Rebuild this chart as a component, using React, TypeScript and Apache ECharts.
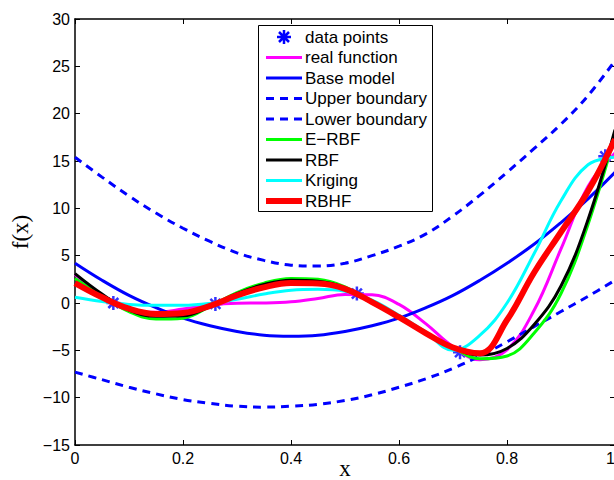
import React, { useEffect, useRef } from "react";
import * as echarts from "echarts";

// ---- data ----
const X = [0, 0.05, 0.1, 0.15, 0.2, 0.25, 0.3, 0.35, 0.4, 0.45, 0.5, 0.55, 0.6, 0.65, 0.7, 0.75, 0.8, 0.85, 0.9, 0.95, 1];

const pointsX = [0.071, 0.26, 0.522, 0.713, 0.982];
const pointsY = [0, -0.1, 1.0, -5.2, 15.5];

const realFunction = [3.03, 0.74, -0.66, -0.98, -0.64, -0.21, -0.02, 0.0, 0.12, 0.48, 0.91, 0.87, -0.15, -2.21, -4.61, -5.99, -4.95, -0.8, 5.71, 12.31, 15.83];
const baseModel = [4.2, 2.4, 0.8, -0.5, -1.6, -2.4, -3.0, -3.4, -3.5, -3.4, -3.0, -2.4, -1.6, -0.5, 0.8, 2.4, 4.2, 6.2, 8.5, 11.0, 13.8];
const upperBoundary = [15.4, 13.3, 11.3, 9.5, 7.9, 6.5, 5.3, 4.5, 4.0, 3.9, 4.2, 5.0, 6.0, 7.3, 9.2, 11.4, 13.8, 16.3, 18.9, 21.9, 25.6];
const lowerBoundary = [-7.3, -8.1, -8.9, -9.6, -10.2, -10.6, -10.9, -11.0, -10.9, -10.7, -10.3, -9.7, -8.9, -8.0, -6.9, -5.6, -4.1, -2.5, -0.9, 0.7, 2.4];
const eRbf = [2.6, 0.75, -0.9, -1.7, -1.6, -0.35, 1.1, 2.1, 2.6, 2.5, 1.7, 0.0, -1.5, -3.2, -4.7, -5.9, -5.6, -3.2, 1.0, 8.3, 17.8];
const rbf = [3.1, 0.95, -0.75, -1.4, -1.35, -0.35, 1.0, 1.95, 2.4, 2.3, 1.6, 0.0, -1.5, -3.2, -4.7, -5.5, -4.8, -2.3, 1.8, 8.8, 18.3];
const kriging = [0.6, 0.15, -0.15, -0.25, -0.25, -0.05, 0.4, 0.95, 1.35, 1.45, 1.25, 0.3, -1.3, -3.1, -5.0, -3.4, 0.0, 5.2, 10.8, 14.6, 15.4];
const rbhf = [2.1, 0.6, -0.6, -1.15, -1.05, -0.3, 0.8, 1.65, 2.1, 2.05, 1.5, 0.1, -1.5, -3.2, -4.7, -5.3, -1.8, 3.2, 7.5, 11.8, 17.3];

const legendNames = ["data points", "real function", "Base model", "Upper boundary", "Lower boundary", "E\u2212RBF", "RBF", "Kriging", "RBHF"];

const X_MIN = 0, X_MAX = 1, X_STEP = 0.2;
const Y_MIN = -15, Y_MAX = 30, Y_STEP = 5;

// ---- drawing ----
const STAR_D = "M-7 0L7 0M0 -7L0 7M-5 -5L5 5M-5 5L5 -5";
echarts.graphic.registerShape("asterisk", echarts.graphic.extendPath(STAR_D, {}));

const BLUE = "#0000FF";
const styles = [
  { kind: "star", color: BLUE },
  { kind: "line", color: "#FF00FF", width: 3 },
  { kind: "line", color: BLUE, width: 3 },
  { kind: "dash", color: BLUE, width: 3 },
  { kind: "dash", color: BLUE, width: 3 },
  { kind: "line", color: "#00FF00", width: 3 },
  { kind: "line", color: "#000000", width: 3 },
  { kind: "line", color: "#00FFFF", width: 3 },
  { kind: "line", color: "#FF0000", width: 6 },
];
const seriesValues = [null, realFunction, baseModel, upperBoundary, lowerBoundary, eRbf, rbf, kriging, rbhf];

const minus = (v: number) => String(v).replace("-", "\u2212");

export default function App() {
  const ref = useRef<HTMLDivElement>(null);
  useEffect(() => {
    if (!ref.current) return;
    const chart = echarts.init(ref.current, null, { renderer: "svg" });

    const series: any[] = [];
    series.push({
      type: "scatter",
      name: legendNames[0],
      data: pointsX.map((x, i) => [x, pointsY[i]]),
      symbol: "path://" + STAR_D,
      symbolSize: 14,
      itemStyle: { color: BLUE, borderColor: BLUE, borderWidth: 2.5 },
      z: 2,
    });
    for (let k = 1; k < legendNames.length; k++) {
      const st: any = styles[k];
      const ys = seriesValues[k] as number[];
      series.push({
        type: "line",
        name: legendNames[k],
        data: X.map((x, i) => [x, ys[i]]),
        showSymbol: false,
        symbol: "none",
        smooth: 0.4,
        lineStyle: { color: st.color, width: st.width, type: st.kind === "dash" ? [8, 6] : "solid" },
        itemStyle: { color: st.color },
        z: 3 + k,
      });
    }

    const lx = 258.5, ly = 25.5, lw = 174, lh = 186;
    const elements: any[] = [
      { type: "rect", shape: { x: lx, y: ly, width: lw, height: lh }, style: { fill: "#fff", stroke: "#000", lineWidth: 1 }, z: 100 },
    ];
    legendNames.forEach((name, i) => {
      const cy = 37 + i * 20.5;
      const st: any = styles[i];
      if (st.kind === "star") {
        elements.push({ type: "asterisk", x: 284, y: cy, style: { stroke: st.color, lineWidth: 2.5, fill: null }, z: 101 });
      } else {
        elements.push({
          type: "line",
          shape: { x1: 266, y1: cy, x2: 302, y2: cy },
          style: { stroke: st.color, lineWidth: st.width, lineDash: st.kind === "dash" ? [8, 6] : null },
          z: 101,
        });
      }
      elements.push({
        type: "text",
        x: 305,
        y: cy,
        style: { text: name, fill: "#000", fontSize: 17, fontFamily: "Liberation Sans", verticalAlign: "middle", align: "left" },
        z: 101,
      });
    });

    const axisLine = { show: true, onZero: false, lineStyle: { color: "#000", width: 1.5 } };
    const axisTick = { show: true, inside: true, length: 5, lineStyle: { color: "#000", width: 1 } };
    const label = { color: "#000", fontSize: 16, fontFamily: "Liberation Sans" };

    chart.setOption({
      animation: false,
      backgroundColor: "#fff",
      grid: { left: 75, top: 19, width: 540, height: 426, containLabel: false, outerBoundsMode: "none" },
      xAxis: [
        {
          type: "value", min: X_MIN, max: X_MAX, interval: X_STEP, position: "bottom",
          axisLine, axisTick, splitLine: { show: false },
          axisLabel: { ...label, margin: 5, alignMaxLabel: "right" },
          name: "x", nameLocation: "middle", nameGap: 12, nameMoveOverlap: false,
          nameTextStyle: { fontFamily: "Liberation Serif", fontSize: 23, color: "#000" },
        },
        {
          type: "value", min: X_MIN, max: X_MAX, interval: X_STEP, position: "top",
          axisLine, axisTick, splitLine: { show: false }, axisLabel: { show: false },
        },
      ],
      yAxis: [
        {
          type: "value", min: Y_MIN, max: Y_MAX, interval: Y_STEP, position: "left",
          axisLine, axisTick, splitLine: { show: false },
          axisLabel: { ...label, margin: 5, formatter: minus },
          name: "f(x)", nameLocation: "middle", nameGap: 40, nameRotate: 90,
          nameTextStyle: { fontFamily: "Liberation Serif", fontSize: 23, color: "#000" },
        },
        {
          type: "value", min: Y_MIN, max: Y_MAX, interval: Y_STEP, position: "right",
          axisLine, axisTick, splitLine: { show: false }, axisLabel: { show: false },
        },
      ],
      series,
      graphic: { elements },
    });
    return () => chart.dispose();
  }, []);
  return (
    <div
      ref={ref}
      style={{ position: "fixed", left: 0, top: 0, width: 614, height: 480, background: "#fff" }}
    />
  );
}
